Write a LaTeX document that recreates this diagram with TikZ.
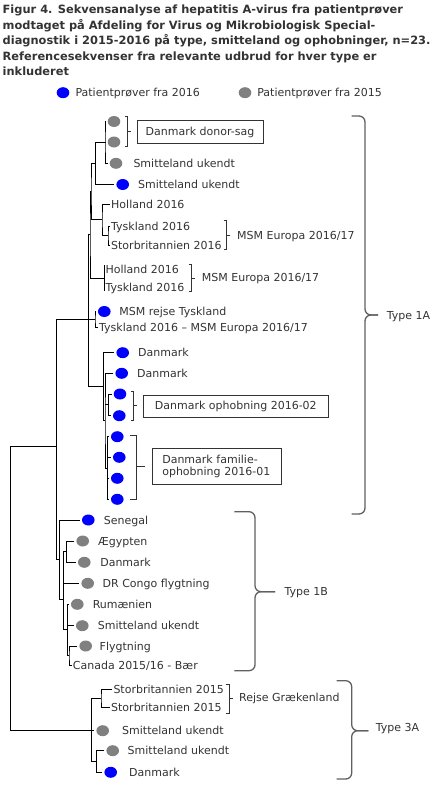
\documentclass[tikz,border=0pt]{standalone}
\usepackage{fontspec}
\setmainfont{DejaVu Sans}
\usepackage{tikz}
\usetikzlibrary{positioning,shapes.geometric}
\definecolor{SSIblue}{HTML}{0000FF}
\definecolor{SSIgray}{HTML}{808080}
\definecolor{SSItext}{HTML}{333333}
\definecolor{SSIbrace}{HTML}{606060}
\tikzset{
  tree/branch/.style={line width=0.9pt, black},
  tree/leaf/.style={ellipse, inner sep=0pt, minimum width=12.6pt, minimum height=11pt, outer sep=2pt},
  tree/new/.style={tree/leaf, fill=SSIblue},
  tree/old/.style={tree/leaf, fill=SSIgray},
  tree/label/.style={anchor=west, inner sep=1pt, text=SSItext, font=\fontsize{11}{13}\selectfont, text height=8pt, text depth=0pt},
  tree/box/.style={draw=SSItext, line width=0.9pt, inner sep=0pt, text=SSItext, font=\fontsize{11}{12.5}\selectfont, align=center},
  tree/bracket/.style={line width=0.9pt, SSItext},
  tree/brace/.style={line width=1.3pt, SSIbrace, rounded corners=6pt},
  tree/title/.style={anchor=north west, inner sep=0pt, align=left, text=SSItext, font=\bfseries\fontsize{11.4}{15.5}\selectfont}
}

\begin{document}
\begin{tikzpicture}[x=1pt, y=-1pt, node distance=6pt]
  \useasboundingbox (0,0) rectangle (440,787);

  \node[tree/title] (title) at (2.5,5) {Figur 4. Sekvensanalyse af hepatitis A-virus fra patientprøver\\modtaget på Afdeling for Virus og Mikrobiologisk Special-\\diagnostik i 2015-2016 på type, smitteland og ophobninger, n=23.\\Referencesekvenser fra relevante udbrud for hver type er\\inkluderet};

  % legend
  \node[tree/new] (key16) at (63,92.7) {};
  \node[tree/label, right=3pt of key16] (key16txt) {Patientprøver fra 2016};
  \node[tree/old] (key15) at (245,92.7) {};
  \node[tree/label, right=2.8pt of key15] (key15txt) {Patientprøver fra 2015};

  % type 1A leaves
  \node[tree/old] (g1) at (114,121.5) {};
  \node[tree/old] (g2) at (114,142) {};
  \node[tree/old] (g3) at (116,163.3) {};
  \node[tree/label, right=8pt of g3] {Smitteland ukendt};
  \node[tree/new] (b4) at (122.7,184.5) {};
  \node[tree/label, right=6pt of b4] {Smitteland ukendt};
  \node[tree/label] (hol1) at (110,204) {Holland 2016};
  \node[tree/label] (tys1) at (110,226) {Tyskland 2016};
  \node[tree/label] (gbr1) at (110,245) {Storbritannien 2016};
  \node[tree/label] (hol2) at (104.3,269) {Holland 2016};
  \node[tree/label] (tys2) at (104.3,287) {Tyskland 2016};
  \node[tree/new] (b5) at (104.3,311.5) {};
  \node[tree/label, right=5.5pt of b5] {MSM rejse Tyskland};
  \node[tree/label] (tys3) at (98,327) {Tyskland 2016 – MSM Europa 2016/17};
  \node[tree/new] (b6) at (122.7,352.7) {};
  \node[tree/label, right=of b6] {Danmark};
  \node[tree/new] (b7) at (121.7,373.3) {};
  \node[tree/label, right=of b7] {Danmark};
  \foreach \n/\x/\y in {b8/120/394, b9/119.3/415.7, b10/117.3/436.7, b11/119.3/457.3, b12/117.3/478.3, b13/117.3/499.3}
    \node[tree/new] (\n) at (\x,\y) {};

  % type 1A branches
  \coordinate (donor) at (105,142);
  \draw[tree/branch] (g1) -| (donor) |- (g3);
  \draw[tree/branch] (donor) -- (g2);
  \coordinate (cl2) at (95.7,163.3);
  \draw[tree/branch] (donor) -| (cl2) |- (b4);
  \coordinate (msm1) at (108,235.5);
  \draw[tree/branch] (tys1) -| (msm1) |- (gbr1);
  \coordinate (hol) at (102,219.75);
  \draw[tree/branch] (hol1) -| (hol) |- (msm1);
  \coordinate (cA) at (91,191.5);
  \draw[tree/branch] (cl2) -| (cA) |- (hol);
  \coordinate (msm2) at (104.3,278);
  \draw[tree/branch] (hol2.west) -- ++(0,-4) (hol2.west) -| (msm2) |- (tys2.west) -- ++(0,4);
  \coordinate (cAB) at (90,234.75);
  \draw[tree/branch] (cA) -| (cAB) |- (msm2);
  \coordinate (msm3) at (95,319.25);
  \draw[tree/branch] (b5) -| (msm3) |- (tys3);
  \coordinate (oph) at (108.7,404.85);
  \draw[tree/branch] (b8) -| (oph) |- (b9);
  \coordinate (fam) at (107.3,468);
  \draw[tree/branch] (b10) -| (fam) |- (b13);
  \draw[tree/branch] (fam |- b11) -- (b11);
  \draw[tree/branch] (fam |- b12) -- (b12);
  \coordinate (cE) at (105,420.6);
  \draw[tree/branch] (b7) -| (cE) |- (fam);
  \draw[tree/branch] (cE |- oph) -- (oph);
  \coordinate (cD) at (103.3,386.6);
  \draw[tree/branch] (b6) -| (cD) |- (cE);
  \coordinate (type1A) at (88.3,319.25);
  \draw[tree/branch] (cAB) -| (type1A) |- (cD);
  \draw[tree/branch] (type1A) -- (msm3);

  % clusters in 1A
  \draw[tree/bracket] (124.5,116.7) -- (127.7,116.7) -- (127.7,146) -- (124.5,146) (127.7,131.3) -- (130.7,131.3);
  \node[tree/box, minimum width=126pt, minimum height=22.6pt] (donorbox) at (200,132) {Danmark donor-sag};
  \draw[tree/bracket] (223.5,220.7) -- (226.7,220.7) -- (226.7,249.3) -- (223.5,249.3) (226.7,235) -- (230,235);
  \node[tree/label] (msm1txt) at (236,235) {MSM Europa 2016/17};
  \draw[tree/bracket] (188.5,264) -- (191.7,264) -- (191.7,291.7) -- (188.5,291.7) (191.7,278) -- (195,278);
  \node[tree/label] (msm2txt) at (200.7,277.5) {MSM Europa 2016/17};
  \draw[tree/bracket] (130.5,391.7) -- (133.3,391.7) -- (133.3,420) -- (130.5,420) (133.3,405) -- (136.7,405);
  \node[tree/box, minimum width=185pt, minimum height=21.6pt] (ophbox) at (235.8,406.5) {Danmark ophobning 2016-02};
  \draw[tree/bracket] (130,435) -- (136.7,435) -- (136.7,499) -- (130,499) (136.7,466.7) -- (145,466.7);
  \node[tree/box, text width=108.7pt, inner xsep=10pt, align=left, minimum height=36pt] (fambox) at (216.65,466.3) {Danmark familie-\\ophobning 2016-01};

  % type 1B leaves
  \node[tree/new] (b14) at (88.3,520) {};
  \node[tree/label, right=of b14] {Senegal};
  \node[tree/old] (g15) at (82.7,541) {};
  \node[tree/label, right=of g15] {Ægypten};
  \node[tree/old] (g16) at (84.3,562.3) {};
  \node[tree/label, right=6.5pt of g16] {Danmark};
  \node[tree/old] (g17) at (87.7,583.3) {};
  \node[tree/label, right=5.5pt of g17] {DR Congo flygtning};
  \node[tree/old] (g18) at (77.3,604.3) {};
  \node[tree/label, right=of g18] {Rumænien};
  \node[tree/old] (g19) at (82.3,625.7) {};
  \node[tree/label, right=of g19] {Smitteland ukendt};
  \node[tree/old] (g20) at (85.7,646) {};
  \node[tree/label, right=4.5pt of g20] {Flygtning};
  \node[tree/label] (can) at (71.7,665) {Canada 2015/16 - Bær};

  % type 1B branches
  \coordinate (egy) at (66.7,551.65);
  \draw[tree/branch] (g15) -| (egy) |- (g16);
  \coordinate (fly) at (69,655.5);
  \draw[tree/branch] (g20) -| (fly) |- (can);
  \coordinate (rum) at (67.7,629.9);
  \draw[tree/branch] (g18) -| (rum) |- (fly);
  \draw[tree/branch] (rum |- g19) -- (g19);
  \coordinate (cI) at (63.3,599.3);
  \draw[tree/branch] (egy) -| (cI) |- (rum);
  \draw[tree/branch] (cI |- g17) -- (g17);
  \coordinate (type1B) at (59.3,559.65);
  \draw[tree/branch] (b14) -| (type1B) |- (cI);
  \coordinate (type1) at (56.3,446.7);
  \draw[tree/branch] (type1A) -| (type1) |- (type1B);

  % type 3A leaves
  \node[tree/label] (gbr2) at (112.3,689) {Storbritannien 2015};
  \node[tree/label] (gbr3) at (110,707.3) {Storbritannien 2015};
  \node[tree/old] (g21) at (102.7,730.7) {};
  \node[tree/label, right=10pt of g21] {Smitteland ukendt};
  \node[tree/old] (g22) at (112.7,750.7) {};
  \node[tree/label, right=5.5pt of g22] {Smitteland ukendt};
  \node[tree/new] (b23) at (110.7,772.3) {};
  \node[tree/label, right=9pt of b23] {Danmark};

  % type 3A branches
  \coordinate (rejse) at (101,698.15);
  \draw[tree/branch] (gbr2) -| (rejse) |- (gbr3);
  \coordinate (cM) at (96.7,761.5);
  \draw[tree/branch] (g22) -| (cM) |- (b23);
  \coordinate (type3A) at (91.7,730.7);
  \draw[tree/branch] (rejse) -| (type3A) |- (cM);
  \draw[tree/branch] (type3A) -- (g21);
  \coordinate (root) at (10.7,588.7);
  \draw[tree/branch] (type1) -| (root) |- (type3A);

  \draw[tree/bracket] (226,684) -- (229.3,684) -- (229.3,713.3) -- (226,713.3) (229.3,698.7) -- (233,698.7);
  \node[tree/label] (rejsetxt) at (238,697.7) {Rejse Grækenland};

  % type braces
  \draw[tree/brace] (351.7,116) -- (365,116) -- (365,315) -- (378,315);
  \draw[tree/brace] (351.7,514) -- (365,514) -- (365,315) -- (378,315);
  \node[tree/label] (t1A) at (385.7,315) {Type 1A};
  \draw[tree/brace] (234.3,511.7) -- (255,511.7) -- (255,591.7) -- (275,591.7);
  \draw[tree/brace] (234.3,670.7) -- (255,670.7) -- (255,591.7) -- (275,591.7);
  \node[tree/label] (t1B) at (283.3,591.5) {Type 1B};
  \draw[tree/brace] (336.7,680.7) -- (351.7,680.7) -- (351.7,730.7) -- (368.3,730.7);
  \draw[tree/brace] (336.7,779) -- (351.7,779) -- (351.7,730.7) -- (368.3,730.7);
  \node[tree/label] (t3A) at (374.7,727) {Type 3A};
\end{tikzpicture}
\end{document}
